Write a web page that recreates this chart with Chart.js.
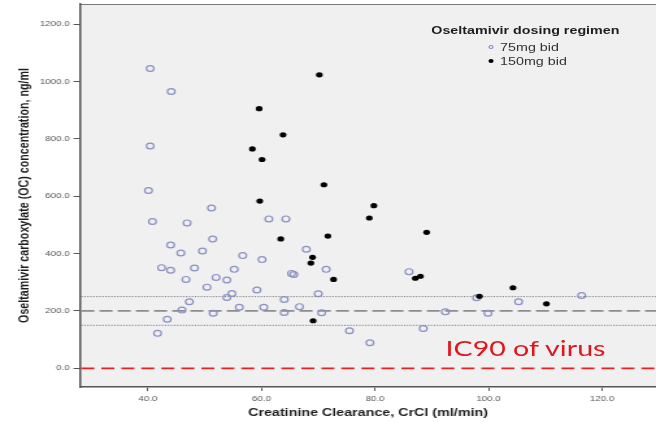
<!DOCTYPE html>
<html>
<head>
<meta charset="utf-8">
<script src="https://cdn.jsdelivr.net/npm/chart.js@4/dist/chart.umd.min.js"></script>
<style>
  html, body { margin: 0; padding: 0; background: #fff; overflow: hidden; }
  #stage {
    position: relative; width: 505px; height: 422px;
    transform: scaleX(1.299); transform-origin: 0 0;
  }
  #chart { display: block; }
  .txt { position: absolute; white-space: nowrap; font-family: "Liberation Sans", Arial, sans-serif; }
  #legendTitle { left: 332px; top: 23px; font-size: 11px; font-weight: bold; color: #1e1e1e; line-height: 14px; }
  .item { font-size: 11px; color: #333; line-height: 14px; }
  .item .mk { position: absolute; left: -9px; top: 5px; width: 4.4px; height: 4.4px; border-radius: 50%; box-sizing: border-box; }
  #item75 { left: 385px; top: 40px; }
  #item150 { left: 385px; top: 54px; }
  #item75 .mk { border: 1.2px solid #8a90c2; background: transparent; }
  #item150 .mk { background: #000; }
  #ic90Label { left: 343px; top: 334px; font-family: Lato, "Open Sans", sans-serif; font-size: 22px; color: #e0161e; line-height: 28px; }
</style>
</head>
<body>
<div id="stage">
  <canvas id="chart" width="505" height="422"></canvas>
  <div class="txt" id="legendTitle">Oseltamivir dosing regimen</div>
  <div class="txt item" id="item75"><span class="mk"></span>75mg bid</div>
  <div class="txt item" id="item150"><span class="mk"></span>150mg bid</div>
  <div class="txt" id="ic90Label">IC90 of virus</div>
</div>
<script>
// Creatinine clearance (ml/min) and OC concentration (ng/ml), 75 mg bid group
const crcl75 = [40.4, 44.1, 40.4, 40.1, 51.2, 40.8, 46.9, 61.3, 64.3, 44.0,
                51.4, 45.8, 49.6, 56.7, 60.1, 67.9, 42.4, 44.0, 48.2, 55.2,
                65.3, 65.7, 46.7, 52.0, 53.9, 50.4, 59.2, 54.8, 53.9, 47.3,
                64.0, 46.0, 56.1, 60.4, 66.7, 51.5, 64.0, 43.4, 41.7, 71.4,
                70.0, 70.6, 75.5, 79.1, 86.0, 88.5, 92.4, 97.9, 99.9, 105.3,
                116.4];
const oc75 = [1045, 965, 775, 620, 559, 512, 507, 521, 521, 430,
              451, 402, 409, 393, 379, 415, 351, 342, 350, 345,
              331, 327, 310, 317, 308, 283, 273, 261, 247, 232,
              240, 203, 213, 213, 215, 192, 195, 171, 122, 345,
              260, 194, 131, 89, 337, 139, 197, 246, 192, 232,
              254];

// 150 mg bid group
const crcl150 = [59.6, 63.8, 58.4, 60.1, 59.7, 63.4, 70.2, 71.0, 79.8, 79.0,
                 71.7, 89.1, 69.0, 68.7, 72.7, 87.1, 88.0, 69.1, 98.4, 104.3,
                 110.2];
const oc150 = [905, 814, 765, 728, 583, 451, 1023, 640, 567, 524,
               461, 474, 387, 367, 310, 314, 321, 166, 251, 281,
               225];

const xTicks = [40, 60, 80, 100, 120];
const yTicks = [0, 200, 400, 600, 800, 1000, 1200];

// Target trough concentration and its band, plus the viral IC90
const targetLevel = 200;
const targetBand = [150, 250];
const ic90Level = 0;

const FONT = "'Liberation Sans', Arial, sans-serif";

// keep tick labels from shrinking the plotting area
const noLabelPadding = s => {
  s.paddingTop = 0; s.paddingBottom = 0; s.paddingLeft = 0; s.paddingRight = 0;
};

const plotFrame = {
  id: 'plotFrame',
  beforeDraw(chart) {
    const { ctx, chartArea: a } = chart;
    ctx.save();
    ctx.fillStyle = '#f0f0f0';
    ctx.fillRect(a.left, a.top, a.right - a.left, a.bottom - a.top);
    ctx.strokeStyle = '#7a7a7a';
    ctx.lineWidth = 1;
    ctx.beginPath();
    ctx.moveTo(a.left, a.top + 0.5);
    ctx.lineTo(a.right, a.top + 0.5);
    ctx.stroke();
    ctx.restore();
  }
};

const referenceLines = {
  id: 'referenceLines',
  beforeDatasetsDraw(chart) {
    const { ctx, chartArea: a, scales: { y } } = chart;
    const hline = (v, color, width, dash) => {
      const py = y.getPixelForValue(v);
      ctx.strokeStyle = color;
      ctx.lineWidth = width;
      ctx.setLineDash(dash);
      ctx.beginPath();
      ctx.moveTo(a.left + 1, py);
      ctx.lineTo(a.right, py);
      ctx.stroke();
    };
    ctx.save();
    targetBand.forEach(v => hline(v, '#6e6e6e', 1, [1, 1.3]));
    hline(targetLevel, '#8c8c8c', 1.8, [10, 4]);
    hline(ic90Level, '#e42222', 1.8, [10, 5.4]);
    ctx.restore();
  }
};

const toPoints = (xs, ys) => xs.map((x, i) => ({ x, y: ys[i] }));

new Chart(document.getElementById('chart'), {
  type: 'scatter',
  data: {
    datasets: [
      {
        label: '75mg bid',
        data: toPoints(crcl75, oc75),
        order: 1,
        pointRadius: 2.9,
        pointBorderWidth: 1.2,
        pointBorderColor: '#8a90c2',
        pointBackgroundColor: 'rgba(0,0,0,0)'
      },
      {
        label: '150mg bid',
        data: toPoints(crcl150, oc150),
        order: 0,
        pointRadius: 2.6,
        pointBorderWidth: 0,
        pointBorderColor: '#000',
        pointBackgroundColor: '#000'
      }
    ]
  },
  options: {
    responsive: false,
    animation: false,
    devicePixelRatio: 1,
    layout: { autoPadding: false, padding: { top: 4, right: 0, bottom: 0, left: 0 } },
    plugins: { legend: { display: false }, tooltip: { enabled: false } },
    scales: {
      x: {
        type: 'linear',
        min: 28.04,
        max: 129.5,
        afterBuildTicks: s => { s.ticks = xTicks.map(v => ({ value: v })); },
        afterFit: s => { s.height = 35; noLabelPadding(s); },
        border: { display: true, color: '#555', width: 1.5 },
        grid: { display: true, drawOnChartArea: false, drawTicks: true, tickLength: 4, color: '#555' },
        ticks: {
          callback: v => Number(v).toFixed(1),
          font: { family: FONT, size: 7.5 },
          color: '#555',
          padding: 3,
          maxRotation: 0,
          autoSkip: false
        },
        title: {
          display: true,
          text: 'Creatinine Clearance, CrCl (ml/min)',
          font: { family: FONT, size: 11, weight: 'bold' },
          color: '#1e1e1e',
          padding: { top: 0, bottom: 2.5 }
        }
      },
      y: {
        type: 'linear',
        min: -65,
        max: 1270,
        afterBuildTicks: s => { s.ticks = yTicks.map(v => ({ value: v })); },
        afterFit: s => { s.width = 61.6; noLabelPadding(s); },
        border: { display: true, color: '#555', width: 1.5 },
        grid: { display: true, drawOnChartArea: false, drawTicks: true, tickLength: 5, color: '#555' },
        ticks: {
          callback: v => Number(v).toFixed(1),
          font: { family: FONT, size: 7.5 },
          color: '#555',
          padding: 3,
          autoSkip: false
        },
        title: {
          display: true,
          text: 'Oseltamivir carboxylate (OC) concentration, ng/ml',
          font: { family: FONT, size: 10.7, weight: 'bold' },
          color: '#1e1e1e',
          padding: { top: 12.6, bottom: 0 }
        }
      }
    }
  },
  plugins: [plotFrame, referenceLines]
});
</script>
</body>
</html>
